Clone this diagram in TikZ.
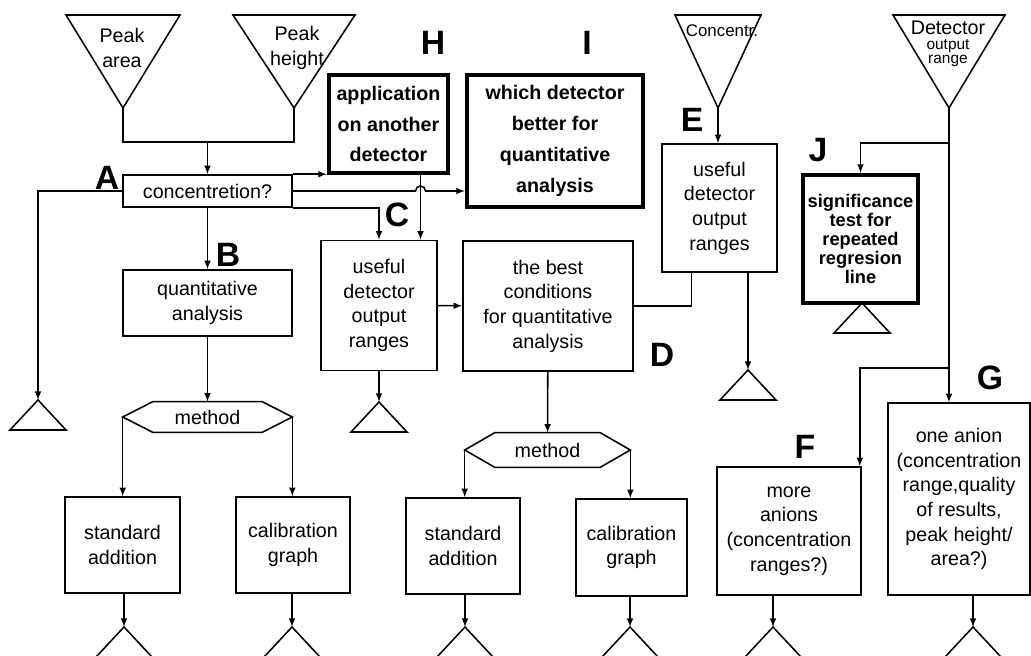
\documentclass[tikz,border=0pt]{standalone}
\usepackage{fontspec}
\setmainfont{Liberation Sans}
\usetikzlibrary{arrows,positioning,calc}

\tikzset{
  box/.style={draw, line width=1.1pt, align=center, inner sep=1pt, font=\fontsize{14}{17.5}\selectfont},
  boldbox/.style={draw, line width=3pt, align=center, inner sep=1pt, font=\fontsize{14}{22}\selectfont\bfseries},
  hexnode/.style={minimum height=0.75cm, inner sep=0pt, font=\fontsize{14}{17}\selectfont},
  srctext/.style={align=center, inner sep=0pt, font=\fontsize{14}{17.5}\selectfont},
  letter/.style={inner sep=0pt, font=\fontsize{24}{24}\selectfont\bfseries},
  line/.style={line width=1.1pt},
  arrow/.style={line width=1.1pt, -latex},
}

% hexagon round a "method" node
\newcommand{\hexframe}[1]{\draw[line] (#1.west) -- ([xshift=0.75cm]#1.north west) -- ([xshift=-0.75cm]#1.north east) -- (#1.east) -- ([xshift=-0.75cm]#1.south east) -- ([xshift=0.75cm]#1.south west) -- cycle;}
% small end triangle, apex named
\newcommand{\sink}[2]{\coordinate (#1) at (#2); \draw[line] (#1) -- ++(-28,30) -- ++(56,0) -- cycle;}
% large input triangle, apex named
\newcommand{\source}[3]{\coordinate (#1) at (#2); \draw[line] (#1) -- ++(-#3,-93) -- ++({2*#3},0) -- cycle;}

\begin{document}
\begin{tikzpicture}[x=0.025cm, y=-0.025cm]
    \useasboundingbox (0,0) rectangle (1031,656);

    % Input triangles
    \source{pa}{123,108}{57}
    \source{ph}{294,108}{61}
    \source{ct}{718,108}{43}
    \source{dt}{949,108}{56}
    \node[srctext] (pat) at (122,48) {Peak\\area};
    \node[srctext] (pht) at (297,48) {Peak\\height};
    \node[srctext, font=\fontsize{12}{14}\selectfont] (ctt) at (722,31) {Concentr.};
    \node[srctext, font=\fontsize{11}{10.5}\selectfont] (dtt) at (948,44) {{\fontsize{14}{14}\selectfont Detector}\\output\\range};

    % Left branch
    \node[box, minimum width=4.225cm, minimum height=0.8cm] (conc) at (207.5,191) {concentretion?};
    \node[box, minimum width=4.225cm, minimum height=1.65cm] (quant) at (207.5,303) {quantitative\\analysis};
    \node[hexnode, minimum width=4.225cm] (meth1) at (207.5,417) {method};
    \hexframe{meth1}
    \node[box, minimum width=2.875cm, minimum height=2.4cm] (std1) at (122.5,545) {standard\\addition};
    \node[box, minimum width=2.85cm, minimum height=2.4cm] (cal1) at (293,545) {calibration\\graph};

    % Middle branch
    \node[boldbox, minimum width=2.975cm, minimum height=2.45cm] (appl) at (388.5,124) {application\\on another\\detector};
    \node[boldbox, minimum width=4.4cm, minimum height=3.3cm] (which) at (555,141) {which detector\\better for\\quantitative\\analysis};
    \node[box, minimum width=2.9cm, minimum height=3.25cm] (use1) at (379,305.5) {useful\\detector\\output\\ranges};
    \node[box, minimum width=4.25cm, minimum height=3.25cm] (best) at (548,306) {the best\\conditions\\for quantitative\\analysis};
    \node[hexnode, minimum width=4.125cm, minimum height=0.85cm] (meth2) at (547.5,450) {method};
    \hexframe{meth2}
    \node[box, minimum width=2.85cm, minimum height=2.4cm] (std2) at (463,546) {standard\\addition};
    \node[box, minimum width=2.775cm, minimum height=2.425cm] (cal2) at (631.5,547.5) {calibration\\graph};

    % Right branch
    \node[box, minimum width=2.875cm, minimum height=3.2cm] (use2) at (719.5,208) {useful\\detector\\output\\ranges};
    \node[boldbox, minimum width=2.875cm, minimum height=3.2cm, font=\fontsize{13}{13.5}\selectfont\bfseries] (signif) at (860.5,239) {significance\\test for\\repeated\\regresion\\line};
    \node[box, minimum width=3.6cm, minimum height=3.2cm] (more) at (789,531) {more\\anions\\(concentration\\ranges?)};
    \node[box, minimum width=3.55cm, minimum height=4.8cm] (one) at (959,499) {one anion\\(concentration\\range,quality\\of results,\\peak height/\\area?)};

    % Letters
    \node[letter] (la) at (107,178) {A};
    \node[letter] (lb) at (228,255) {B};
    \node[letter] (lc) at (397,215) {C};
    \node[letter] (ld) at (662,355) {D};
    \node[letter] (le) at (692,120) {E};
    \node[letter] (lf) at (805,447) {F};
    \node[letter] (lg) at (990,378) {G};
    \node[letter] (lh) at (433,43) {H};
    \node[letter] (li) at (587,43) {I};
    \node[letter] (lj) at (818,150) {J};

    % End triangles
    \sink{s1}{38,400}
    \sink{s2}{124,627}
    \sink{s3}{292,627}
    \sink{s4}{379,402}
    \sink{s5}{465,627}
    \sink{s6}{630,627}
    \sink{s7}{748,370}
    \sink{s8}{862,303}
    \sink{s9}{773,627}
    \sink{s10}{973,627}

    % Connections
    \coordinate (pjoin) at (207.5,142);
    \draw[line] (pa) |- (pjoin) -| (ph);
    \draw[arrow] (pjoin) -- (conc);
    \draw[arrow] (conc.west) -| (s1);
    \draw[arrow] (conc) -- (quant);
    \draw[arrow] (quant) -- (meth1);
    \draw[arrow] (meth1.west) -- (meth1.west |- std1.north);
    \draw[arrow] (meth1.east) -- (meth1.east |- cal1.north);
    \draw[arrow] (std1.south -| s2) -- (s2);
    \draw[arrow] (cal1.south -| s3) -- (s3);

    \coordinate (hop) at ([xshift=0.8cm]appl.south);
    \draw[arrow] (conc.north east) -- (conc.north east -| appl.west);
    \draw[arrow] (conc.east) -- ([xshift=-0.125cm]conc.east -| hop) arc[start angle=180, end angle=0, radius=0.125cm] -- (conc.east -| which.west);
    \draw[arrow] (conc.south east) -| (use1.north);
    \draw[arrow] (hop) -- (hop |- use1.north);
    \draw[arrow] (use1) -- (best);
    \draw[arrow] (use1) -- (s4);
    \draw[arrow] (best) -- (meth2);
    \draw[arrow] (meth2.west) -- (meth2.west |- std2.north);
    \draw[arrow] (meth2.east) -- (meth2.east |- cal2.north);
    \draw[arrow] (std2.south -| s5) -- (s5);
    \draw[arrow] (cal2.south -| s6) -- (s6);

    \draw[line] (best.east) -| ([xshift=-0.7cm]use2.south);
    \draw[arrow] (ct) -- (ct |- use2.north);
    \draw[arrow] (use2.south -| s7) -- (s7);
    \draw[arrow] (dt) -- (dt |- one.north);
    \draw[arrow] ($(dt)+(0,35)$) -| (signif.north);
    \draw[arrow] ($(dt)+(0,260)$) -| ([xshift=-0.05cm]more.north east);
    \draw[arrow] (more.south -| s9) -- (s9);
    \draw[arrow] (one.south -| s10) -- (s10);
\end{tikzpicture}
\end{document}
